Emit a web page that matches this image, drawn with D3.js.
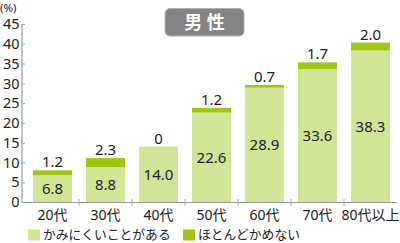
<!DOCTYPE html>
<html><head><meta charset="utf-8">
<script src="https://cdn.jsdelivr.net/npm/d3@7"></script>
<style>body{margin:0;background:#fff}svg{display:block}text{font-family:"Noto Sans","Noto Sans CJK JP",sans-serif}</style>
</head><body>
<script>
const categories = ["20代","30代","40代","50代","60代","70代","80代以上"];
const hardToChew = [6.8, 8.8, 14.0, 22.6, 28.9, 33.6, 38.3];
const cannotChew = [1.2, 2.3, 0, 1.2, 0.7, 1.7, 2.0];
const yTicks = [0,5,10,15,20,25,30,35,40,45];
const seriesNames = ["かみにくいことがある","ほとんどかめない"];
const colors = ["#d2e596","#a2c512"];

const W=400,H=243;
const svg=d3.select("body").append("svg").attr("width",W).attr("height",H);
const x=d3.scaleBand().domain(categories).range([26,397]).paddingInner(0.264).paddingOuter(0.132);
const y=d3.scaleLinear().domain([0,45]).range([202,24]);
const txt="#222";

// y axis
const ya=svg.append("g").attr("transform","translate(21.5,0)")
  .call(d3.axisRight(y).tickValues(yTicks).tickSize(3.5).tickFormat(""));
ya.select(".domain").attr("stroke","#888").attr("d","M0.5,"+y(45)+"V"+y(0));
ya.selectAll(".tick line").attr("stroke","#aaa");
svg.append("g").selectAll("text").data(yTicks).join("text")
  .attr("x",19.5).attr("y",d=>y(d)).attr("dy","0.36em").attr("text-anchor","end")
  .attr("font-size",14.5).attr("fill",txt).text(d=>d);
svg.append("text").attr("x",0).attr("y",11.8).attr("font-size",11.5).attr("fill",txt).text("(%)");

// x axis
svg.append("line").attr("x1",22).attr("x2",397).attr("y1",202.5).attr("y2",202.5).attr("stroke","#999");
const step=x.step();
svg.append("g").selectAll("line").data(categories.slice(1)).join("line")
  .attr("x1",d=>x(d)-(step-x.bandwidth())/2).attr("x2",d=>x(d)-(step-x.bandwidth())/2)
  .attr("y1",199).attr("y2",206).attr("stroke","#aaa");
svg.append("g").selectAll("text").data(categories).join("text")
  .attr("x",d=>x(d)+x.bandwidth()/2).attr("y",215).attr("dy","0.36em").attr("text-anchor","middle")
  .attr("font-size",14).attr("fill",txt).text(d=>d);

// bars
const g=svg.append("g");
g.selectAll(".b1").data(categories).join("rect")
  .attr("x",d=>x(d)).attr("width",x.bandwidth())
  .attr("y",(d,i)=>y(hardToChew[i])).attr("height",(d,i)=>y(0)-y(hardToChew[i]))
  .attr("fill",colors[0]);
g.selectAll(".b2").data(categories).join("rect")
  .attr("x",d=>x(d)).attr("width",x.bandwidth())
  .attr("y",(d,i)=>y(hardToChew[i]+cannotChew[i])).attr("height",(d,i)=>y(hardToChew[i])-y(hardToChew[i]+cannotChew[i]))
  .attr("fill",colors[1]);
g.selectAll(".l1").data(categories).join("text")
  .attr("x",d=>x(d)+x.bandwidth()/2).attr("y",(d,i)=>(y(0)+y(hardToChew[i]))/2).attr("dy","0.36em")
  .attr("text-anchor","middle").attr("font-size",15).attr("fill",txt).text((d,i)=>hardToChew[i].toFixed(1));
g.selectAll(".l2").data(categories).join("text")
  .attr("x",d=>x(d)+x.bandwidth()/2).attr("y",(d,i)=>y(hardToChew[i]+cannotChew[i])-3)
  .attr("text-anchor","middle").attr("font-size",15).attr("fill",txt)
  .text((d,i)=>cannotChew[i]===0?"0":cannotChew[i].toFixed(1));

// title
svg.append("rect").attr("x",165).attr("y",8.5).attr("width",79).attr("height",27.5).attr("rx",5)
  .attr("fill","#848484").attr("stroke","#b0b0b0");
svg.append("text").attr("x",204.5).attr("y",22.5).attr("dy","0.36em").attr("text-anchor","middle")
  .attr("font-family","Noto Sans CJK JP").attr("font-size",18).attr("font-weight","bold").attr("fill","#fff").text("男 性");

// legend
const lx=[28,183];
seriesNames.forEach((n,i)=>{
  svg.append("rect").attr("x",lx[i]).attr("y",229.5).attr("width",12).attr("height",11).attr("fill",colors[i]);
  svg.append("text").attr("x",lx[i]+15).attr("y",234.5).attr("dy","0.36em")
    .attr("font-family","Noto Sans CJK JP").attr("font-size",12.8).attr("fill",txt).text(n);
});
</script>
</body></html>
